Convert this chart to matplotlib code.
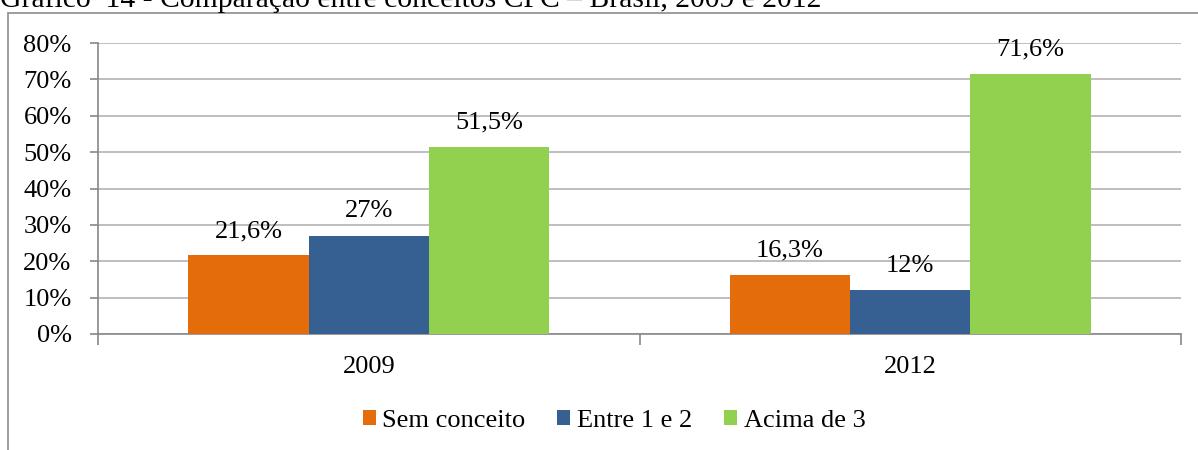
import matplotlib
matplotlib.use("Agg")
import matplotlib.pyplot as plt
from matplotlib.patches import Rectangle
from matplotlib.ticker import PercentFormatter
import numpy as np

plt.rcParams["font.family"] = ["Liberation Serif", "DejaVu Serif"]

years = ["2009", "2012"]
series = ["Sem conceito", "Entre 1 e 2", "Acima de 3"]
sem_conceito = [21.6, 16.3]
entre_1_e_2 = [27.0, 12.0]
acima_de_3 = [51.5, 71.6]
value_labels = [["21,6%", "16,3%"], ["27%", "12%"], ["51,5%", "71,6%"]]
colors = ["#E46C0A", "#376092", "#92D050"]

W, H = 1198, 450
fig = plt.figure(figsize=(W / 100, H / 100), dpi=100)

# moldura do gráfico (cortada à direita e em baixo)
fig.patches.append(Rectangle((8 / W, -0.1), 1.2, 1 - 13 / H + 0.1,
                             transform=fig.transFigure, fill=False,
                             edgecolor="#8c8c8c", linewidth=1.2))

fig.text(0.0, 1 - 7 / H, "Gráfico  14 - Comparação entre conceitos CPC – Brasil, 2009 e 2012",
         ha="left", va="baseline", fontsize=21.3)

ax = fig.add_axes([98 / W, 1 - 334 / H, (1181 - 98) / W, (334 - 43) / H])

x = np.arange(len(years))
w = 1 / 4.5
for i, (vals, c) in enumerate(zip([sem_conceito, entre_1_e_2, acima_de_3], colors)):
    pos = x + (i - 1) * w
    ax.bar(pos, vals, width=w, color=c, label=series[i], zorder=3)
    for p, v, t in zip(pos, vals, value_labels[i]):
        ax.annotate(t, (p, v), xytext=(0, 17.5), textcoords="offset points",
                    ha="center", va="center", fontsize=19)

ax.set_xlim(-0.5, 1.5)
ax.set_ylim(0, 80)
ax.set_yticks(np.arange(0, 81, 10))
ax.yaxis.set_major_formatter(PercentFormatter(decimals=0))
ax.grid(axis="y", color="#b3b3b3", linewidth=1.2, zorder=0)

ax.set_xticks([-0.5, 0.5, 1.5])
ax.set_xticklabels([])
ax.set_xticks(x, minor=True)
ax.set_xticklabels(years, minor=True)
ax.tick_params(axis="x", which="major", direction="out", length=8, color="#888888", width=1.2)
ax.tick_params(axis="x", which="minor", length=0, pad=16, labelsize=19)
ax.tick_params(axis="y", direction="out", length=6, color="#888888", width=1.2, labelsize=19, pad=13)

for s in ["top", "right"]:
    ax.spines[s].set_visible(False)
for s in ["left", "bottom"]:
    ax.spines[s].set_color("#888888")
    ax.spines[s].set_linewidth(1.2)

fig.legend(loc="center", bbox_to_anchor=(614 / W, 1 - 421 / H), ncol=3, frameon=False,
           fontsize=19, handlelength=0.5, handleheight=0.5, handletextpad=0.25, columnspacing=1.2)

fig.savefig("out.png", dpi=100)
